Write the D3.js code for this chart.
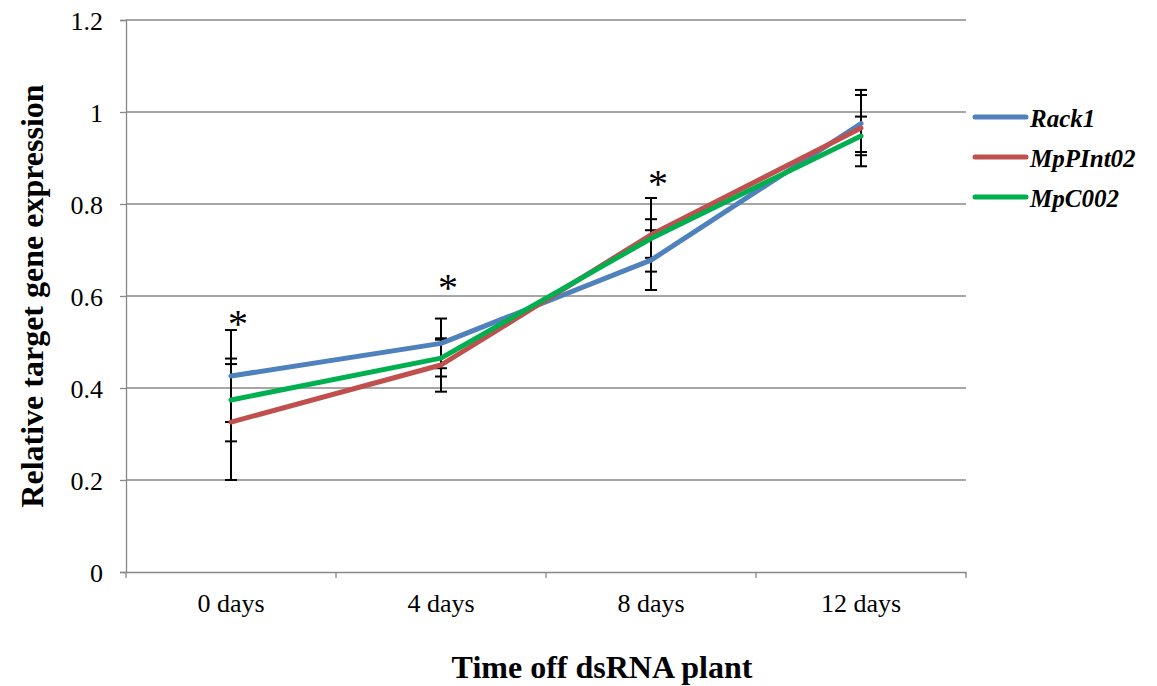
<!DOCTYPE html>
<html>
<head>
<meta charset="utf-8">
<script src="https://cdn.jsdelivr.net/npm/d3@7/dist/d3.min.js"></script>
<style>
  html, body { margin: 0; padding: 0; background: #fff; }
  svg { display: block; }
  text { font-family: "Liberation Serif", "Times New Roman", serif; }
</style>
</head>
<body>
<svg id="chart" width="1157" height="686"></svg>
<script>
// Time points
const categories = ["0 days", "4 days", "8 days", "12 days"];

// Mean relative expression per gene
const rack1Values     = [0.426, 0.497, 0.678, 0.975];
const mpPInt02Values  = [0.326, 0.450, 0.733, 0.965];
const mpC002Values    = [0.374, 0.465, 0.725, 0.948];

// Error (± SD) per gene
const rack1Errors     = [0.100, 0.054, 0.065, 0.062];
const mpPInt02Errors  = [0.126, 0.058, 0.080, 0.083];
const mpC002Errors    = [0.090, 0.040, 0.042, 0.042];

// Significance marks (asterisk height in data units; null = not significant)
const starValues  = [0.552, 0.630, 0.857, null];

const yTicks = [0, 0.2, 0.4, 0.6, 0.8, 1, 1.2];

const seriesNames  = ["Rack1", "MpPInt02", "MpC002"];
const seriesColors = ["#4F81BD", "#C0504D", "#00B050"];

const series = [
  { name: seriesNames[0], values: rack1Values,    errors: rack1Errors,    color: seriesColors[0] },
  { name: seriesNames[1], values: mpPInt02Values, errors: mpPInt02Errors, color: seriesColors[1] },
  { name: seriesNames[2], values: mpC002Values,   errors: mpC002Errors,   color: seriesColors[2] }
];

const svg = d3.select("#chart");
const plot = { left: 126, right: 966, top: 20, bottom: 572 };

const x = d3.scaleBand().domain(categories).range([plot.left, plot.right]);
const y = d3.scaleLinear().domain([0, 1.2]).range([plot.bottom, plot.top]);
const cx = c => x(c) + x.bandwidth() / 2;

const gridColor = "#888888";
const serif = "Liberation Serif, Times New Roman, serif";

// Horizontal gridlines
svg.append("g")
  .selectAll("line")
  .data(yTicks.filter(t => t > 0))
  .join("line")
  .attr("x1", plot.left).attr("x2", plot.right)
  .attr("y1", d => y(d)).attr("y2", d => y(d))
  .attr("stroke", gridColor).attr("stroke-width", 1.3);

// Y axis
const yAxis = svg.append("g")
  .attr("transform", `translate(${plot.left},0)`)
  .call(d3.axisLeft(y).tickValues(yTicks).tickSize(6).tickPadding(17)
    .tickFormat(d => String(+d.toFixed(1))));
yAxis.select(".domain").attr("stroke", gridColor).attr("stroke-width", 1.3);
yAxis.selectAll(".tick line").attr("stroke", gridColor).attr("stroke-width", 1.3);
yAxis.selectAll(".tick text")
  .attr("font-family", serif)
  .attr("font-size", 26).attr("fill", "#000")
  .attr("dy", null).attr("y", 9);

// X axis
const xAxis = svg.append("g")
  .attr("transform", `translate(0,${plot.bottom})`)
  .call(d3.axisBottom(x).tickSize(0));
xAxis.select(".domain").attr("stroke", gridColor).attr("stroke-width", 1.3);
xAxis.selectAll(".tick text")
  .attr("font-family", serif)
  .attr("font-size", 26).attr("fill", "#000")
  .attr("dy", null).attr("y", 40);
// Category boundary ticks
const boundaries = categories.map(c => x(c)).concat([plot.right]);
xAxis.append("g").selectAll("line")
  .data(boundaries)
  .join("line")
  .attr("x1", d => d).attr("x2", d => d)
  .attr("y1", 0).attr("y2", 6)
  .attr("stroke", gridColor).attr("stroke-width", 1.3);

// Error bars
const errG = svg.append("g");
series.forEach(s => {
  s.values.forEach((v, i) => {
    const xc = cx(categories[i]);
    const hi = y(v + s.errors[i]), lo = y(v - s.errors[i]);
    errG.append("line").attr("x1", xc).attr("x2", xc).attr("y1", hi).attr("y2", lo)
      .attr("stroke", "#000").attr("stroke-width", 2);
    [hi, lo].forEach(yy => {
      errG.append("line").attr("x1", xc - 6).attr("x2", xc + 6).attr("y1", yy).attr("y2", yy)
        .attr("stroke", "#000").attr("stroke-width", 2);
    });
  });
});

// Series lines
const line = d3.line().x((d, i) => cx(categories[i])).y(d => y(d));
svg.append("g")
  .selectAll("path")
  .data(series)
  .join("path")
  .attr("d", d => line(d.values))
  .attr("fill", "none")
  .attr("stroke", d => d.color)
  .attr("stroke-width", 5)
  .attr("stroke-linecap", "round")
  .attr("stroke-linejoin", "round");

// Significance asterisks
svg.append("g")
  .selectAll("text")
  .data(categories.map((c, i) => ({ c, v: starValues[i] })).filter(d => d.v !== null))
  .join("text")
  .attr("x", d => cx(d.c) + 7)
  .attr("y", d => y(d.v) + 19)
  .attr("text-anchor", "middle")
  .attr("font-size", 40)
  .text("*");

// Legend
const legend = svg.append("g").attr("transform", "translate(973,117)");
series.forEach((s, i) => {
  const g = legend.append("g").attr("transform", `translate(0,${i * 40})`);
  g.append("line").attr("x1", 2).attr("x2", 53).attr("y1", 0).attr("y2", 0)
    .attr("stroke", s.color).attr("stroke-width", 5).attr("stroke-linecap", "round");
  g.append("text").attr("x", 57).attr("y", 10)
    .attr("font-size", 25).attr("font-weight", "bold").attr("font-style", "italic")
    .text(s.name);
});

// Axis titles
svg.append("text")
  .attr("x", 602).attr("y", 678)
  .attr("text-anchor", "middle")
  .attr("font-size", 32).attr("font-weight", "bold")
  .text("Time off dsRNA plant");

svg.append("text")
  .attr("transform", `translate(43,296) rotate(-90)`)
  .attr("text-anchor", "middle")
  .attr("font-size", 32).attr("font-weight", "bold")
  .text("Relative target gene expression");
</script>
</body>
</html>
